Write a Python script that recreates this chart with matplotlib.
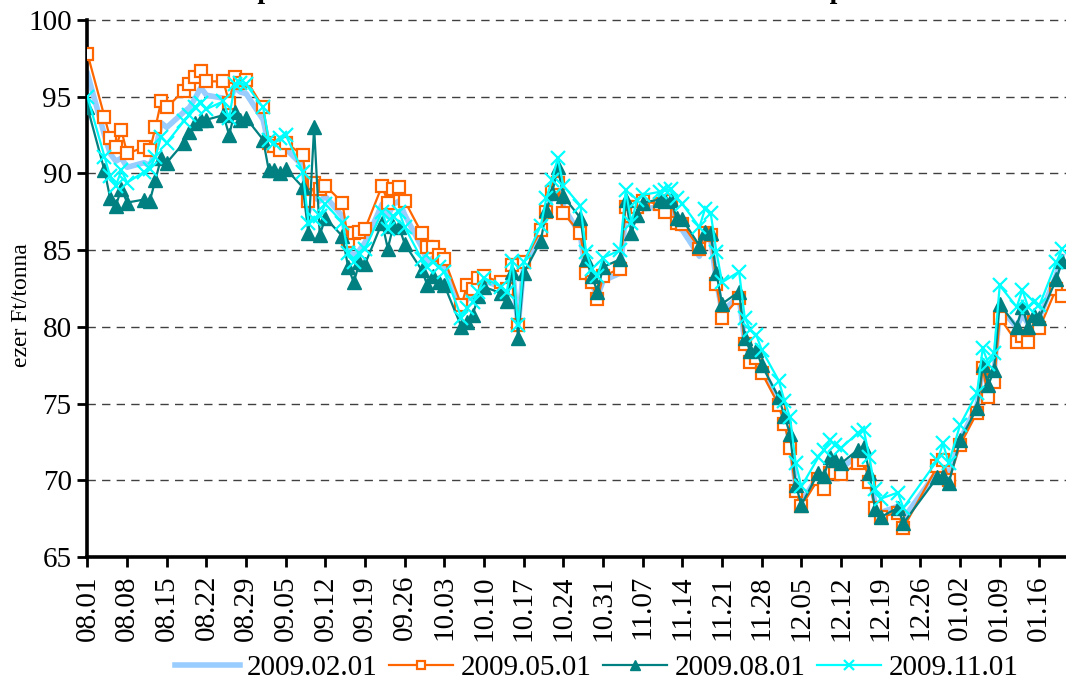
import matplotlib
matplotlib.use("Agg")
import matplotlib.pyplot as plt
import pandas as pd

plt.rcParams['font.family'] = ['Liberation Serif', 'DejaVu Serif']

# trading days (weekdays, without the Christmas / New Year holidays)
holidays = ['2008-12-24', '2008-12-25', '2008-12-26', '2009-01-01']
dates = [d for d in pd.bdate_range('2008-08-01', '2009-01-20') if d.strftime('%Y-%m-%d') not in holidays]

series_names = ['2009.02.01', '2009.05.01', '2009.08.01', '2009.11.01']

feb09 = [96.5, 92.5, 91.3, 90.8, 91.0, 90.4, 90.7, 90.5, 91.5, 93.3, 93.0, 94.0, 94.3, 94.9, 95.6, 95.1, 94.9, 94.6, 95.6, 95.3, 95.2,
         93.5, 91.8, 91.5, 91.4, 91.6, 90.5, 87.5, 88.5, 88.2, 88.5, 87.2, 85.0, 84.6, 85.0, 85.5, 88.0, 87.2, 88.0, 88.2, 87.3, 85.2, 84.2,
         84.5, 84.0, 83.8, 81.0, 81.8, 82.0, 82.6, 83.0, 82.6, 82.0, 83.8, 80.0, 84.0, 86.0, 87.3, 88.6, 89.6, 87.8, 86.0, 83.2, 82.8, 82.0, 83.0,
         83.5, 87.5, 86.6, 87.4, 87.7, 87.8, 87.5, 87.7, 86.5, 86.3, 84.6, 85.8, 85.7, 83.0, 81.0, 82.0, 79.0, 78.0, 78.2, 77.3,
         75.2, 74.0, 72.6, 69.6, 68.6, 70.3, 70.0, 71.0, 71.0, 70.8, 71.6, 71.8, 70.3, 68.5, 67.9, 68.3, 67.5, 70.6, 71.0, 70.3,
         72.6, 74.9, 77.4, 76.0, 77.0, 81.2, 80.0, 80.8, 80.2, 80.8, 80.6, 83.4, 84.6]

may09 = [97.8, 93.7, 92.3, 91.7, 92.8, 91.3, 91.7, 91.5, 93.0, 94.7, 94.3, 95.4, 95.8, 96.3, 96.7, 96.0, 96.0, 94.6, 96.3, 95.9, 96.1,
         94.3, 92.0, 91.8, 91.5, 92.0, 91.2, 88.2, 89.4, 89.0, 89.2, 88.1, 85.6, 86.1, 86.2, 86.4, 89.2, 88.1, 89.0, 89.1, 88.2, 86.1, 85.2,
         85.2, 84.7, 84.4, 81.4, 82.7, 82.5, 83.2, 83.3, 82.9, 82.5, 84.0, 80.1, 84.2, 86.3, 87.5, 88.8, 89.4, 87.4, 86.1, 83.5, 82.9, 81.8, 83.3,
         83.8, 87.8, 87.2, 87.8, 88.2, 88.0, 87.5, 88.2, 86.8, 86.7, 85.1, 86.1, 86.0, 82.8, 80.6, 81.9, 78.9, 77.7, 78.0, 77.0,
         74.9, 73.7, 72.1, 69.3, 68.3, 70.1, 69.4, 70.5, 70.5, 70.4, 71.1, 71.3, 69.9, 68.2, 67.6, 67.9, 66.9, 70.9, 71.3, 70.0,
         72.3, 74.4, 77.3, 75.4, 76.4, 80.6, 79.0, 79.4, 79.0, 80.3, 79.9, 82.5, 82.0]

aug09 = [94.3, 90.2, 88.4, 87.9, 89.0, 88.1, 88.3, 88.2, 89.6, 91.0, 90.7, 92.0, 92.7, 93.3, 93.5, 93.5, 93.8, 92.5, 94.0, 93.5, 93.6,
         92.2, 90.2, 90.2, 90.0, 90.3, 89.1, 86.1, 93.0, 86.0, 87.1, 85.9, 83.9, 82.9, 84.2, 84.1, 86.8, 85.1, 86.6, 86.5, 85.4, 83.7, 82.7,
         83.3, 82.9, 82.7, 80.0, 80.3, 80.8, 82.0, 82.6, 82.2, 81.7, 83.6, 79.3, 83.5, 85.6, 87.6, 88.7, 90.4, 88.5, 87.1, 84.4, 83.3, 82.3, 83.9,
         84.4, 88.3, 86.1, 87.3, 88.1, 88.3, 88.2, 88.3, 87.1, 87.0, 85.3, 86.2, 86.1, 83.5, 81.5, 82.3, 79.3, 78.4, 78.5, 77.5,
         75.4, 74.2, 73.0, 69.7, 68.4, 70.5, 70.3, 71.5, 71.3, 71.1, 72.0, 72.2, 70.5, 68.1, 67.6, 68.2, 67.2, 70.2, 70.3, 69.8,
         72.6, 74.7, 77.5, 76.2, 77.2, 81.5, 80.0, 81.3, 80.0, 80.8, 80.6, 83.1, 84.3]

nov09 = [95.0, 91.1, 89.8, 89.2, 90.2, 89.4, 90.1, 90.3, 91.1, 92.4, 92.0, 93.4, 93.8, 94.3, 94.6, 94.2, 94.7, 93.6, 95.8, 95.9, 95.8,
         94.3, 92.2, 92.0, 92.3, 92.5, 90.1, 86.8, 87.0, 87.2, 88.0, 86.8, 84.8, 84.2, 84.8, 85.1, 87.5, 86.4, 87.2, 87.5, 86.5, 84.4, 83.9,
         84.2, 83.9, 83.6, 80.6, 81.2, 81.6, 82.3, 83.2, 82.6, 82.3, 84.3, 80.1, 84.2, 86.6, 88.4, 89.6, 91.0, 89.2, 87.9, 84.9, 83.8, 83.3, 84.5,
         85.0, 88.9, 86.8, 88.3, 88.6, 88.8, 88.9, 89.0, 88.4, 88.0, 86.5, 87.7, 87.4, 84.9, 82.9, 83.6, 80.6, 79.8, 79.5, 78.5,
         76.5, 75.2, 74.1, 71.1, 69.6, 71.5, 72.0, 72.6, 72.3, 72.1, 73.1, 73.3, 71.5, 69.4, 68.8, 69.2, 68.2, 71.3, 72.4, 71.1,
         73.6, 75.7, 78.6, 77.6, 78.3, 82.7, 81.3, 82.4, 81.3, 81.6, 81.4, 84.2, 85.1]

yticks = [65, 70, 75, 80, 85, 90, 95, 100]
title = "Spot és határidős kukorica árak alakulása a budapesti tőzsdén"
ylabel = "ezer Ft/tonna"

W, H = 1066, 693
fig = plt.figure(figsize=(W / 100, H / 100), dpi=100)
ax = fig.add_axes([87 / W, 1 - 557 / H, 1 - 87 / W, (557 - 20) / H])

ax.plot(dates, feb09, color='#99CCFF', lw=4.0, label=series_names[0], zorder=2)
ax.plot(dates, may09, color='#FF6600', lw=1.6, marker='s', ms=8.5, mfc='white', mec='#FF6600', mew=1.6,
        label=series_names[1], zorder=3)
ax.plot(dates, aug09, color='#008080', lw=1.6, marker='^', ms=10, mfc='#008080', mec='#008080',
        label=series_names[2], zorder=4)
ax.plot(dates, nov09, color='#00FFFF', lw=1.6, marker='x', ms=10, mew=1.6,
        label=series_names[3], zorder=5)

x0 = pd.Timestamp('2008-08-01')
ax.set_xlim(x0 - pd.Timedelta(hours=2), x0 + pd.Timedelta(days=172.7))
ax.set_ylim(65, 100)

for v in yticks[1:]:
    ax.axhline(v, color='#404040', lw=1.0, ls=(0, (6, 4.5)), zorder=1, clip_on=False)

ax.set_yticks(yticks)
ax.set_yticklabels([str(v) for v in yticks])
tick_dates = pd.date_range('2008-08-01', '2009-01-20', freq='7D')
ax.set_xticks(tick_dates)
ax.set_xticklabels([d.strftime('%m.%d') for d in tick_dates], rotation=90)

for s in ['top', 'right']:
    ax.spines[s].set_visible(False)
for s in ['left', 'bottom']:
    ax.spines[s].set_linewidth(2.6)
ax.tick_params(axis='both', direction='out', width=2, length=7, labelsize=21, colors='black')
ax.tick_params(axis='x', pad=6)
ax.tick_params(axis='y', pad=4)

fig.text(22 / W, 1 - 305 / H, ylabel, rotation=90, ha='center', va='center', fontsize=17)
# title is cut off by the top edge in the reference
fig.text(612 / W, 1 + 1.5 / H, title, ha='center', va='baseline', fontsize=20, fontweight='bold')

fig.legend(loc='center', bbox_to_anchor=(597 / W, 1 - 668 / H), ncol=4, frameon=False,
           fontsize=21, handlelength=2.2, handletextpad=0.25, columnspacing=0.4, markerscale=0.7)

fig.savefig('out.png', dpi=100)
